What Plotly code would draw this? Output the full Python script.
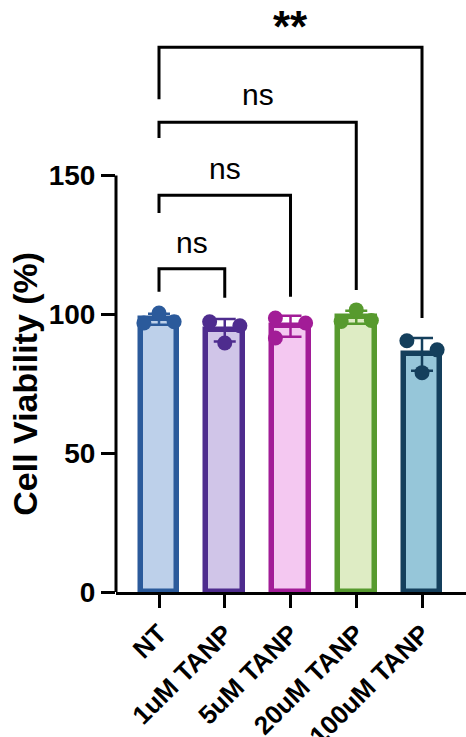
import numpy as np
import plotly.graph_objects as go

# ---- data ----
groups = ["NT", "1uM TANP", "5uM TANP", "20uM TANP", "100uM TANP"]
nt_vals = [96.9, 100.5, 97.3]
tanp1_vals = [97.3, 89.7, 95.9]
tanp5_vals = [98.7, 91.5, 96.9]
tanp20_vals = [97.4, 101.6, 97.8]
tanp100_vals = [90.5, 79.0, 87.2]
replicates = [nt_vals, tanp1_vals, tanp5_vals, tanp20_vals, tanp100_vals]

y_ticks = [0, 50, 100, 150]
y_title = "Cell Viability (%)"
comparisons = [(0, 1, "ns"), (0, 2, "ns"), (0, 3, "ns"), (0, 4, "**")]

# ---- styling ----
edge_colors = ["#2B5A9B", "#4E2C8E", "#A21C97", "#579A2E", "#143F5C"]
fill_colors = ["#BDD0EA", "#D0C5E8", "#F4C8F1", "#DEECC4", "#96C6D9"]
point_offsets = [[-1, 0, 1], [-1, 0, 1], [-1, -1, 1], [-1, 0, 1], [-1, 0, 1]]
jitter = 0.23
# bracket geometry: (top, left-leg bottom, right-leg bottom, label y)
bracket_levels = [
    (116.4, 108.1, 106.0, 126.0),
    (142.9, 136.5, 106.3, 152.5),
    (169.2, 163.5, 108.8, 179.0),
    (196.2, 177.5, 98.7, 203.5),
]
FONT = "Liberation Sans, Arial, Helvetica, sans-serif"

means = [float(np.mean(v)) for v in replicates]
sds = [float(np.std(v, ddof=1)) for v in replicates]
xs = list(range(len(groups)))

fig = go.Figure()

for i, g in enumerate(groups):
    fig.add_trace(go.Bar(
        x=[xs[i]], y=[means[i]], width=0.56,
        marker=dict(color=fill_colors[i], line=dict(color=edge_colors[i], width=5.5)),
        error_y=dict(type="data", array=[sds[i]], color=edge_colors[i],
                     thickness=2.5, width=11, visible=True),
        showlegend=False, hoverinfo="skip",
    ))

for i, vals in enumerate(replicates):
    px = [xs[i] + jitter * o for o in point_offsets[i]]
    fig.add_trace(go.Scatter(
        x=px, y=vals, mode="markers",
        marker=dict(size=15, color=edge_colors[i], line=dict(width=0)),
        showlegend=False, hoverinfo="skip",
    ))

shapes = []
# y axis line spans only the ticked range
shapes.append(dict(type="line", xref="paper", yref="y", x0=0, x1=0,
                   y0=0, y1=y_ticks[-1], line=dict(color="black", width=3)))
annotations = []
for (a, b, lab), (top, lbot, rbot, ly) in zip(comparisons, bracket_levels):
    shapes.append(dict(
        type="path", xref="x", yref="y",
        path=f"M {xs[a]},{lbot} L {xs[a]},{top} L {xs[b]},{top} L {xs[b]},{rbot}",
        line=dict(color="black", width=3),
    ))
    bold = lab != "ns"
    annotations.append(dict(
        x=(xs[a] + xs[b]) / 2, y=ly, xref="x", yref="y", text=lab,
        showarrow=False, yanchor="middle",
        font=dict(family=FONT, size=44 if bold else 30, color="black",
                  weight="bold" if bold else "normal"),
    ))

# axis title centred on the ticked span of the y axis
annotations.append(dict(
    x=-0.26, y=y_ticks[-1] / 2, xref="paper", yref="y", text=y_title,
    textangle=-90, showarrow=False, xanchor="center", yanchor="middle",
    font=dict(family=FONT, size=34, color="black", weight="bold"),
))

fig.update_layout(
    width=466, height=737,
    margin=dict(l=116, r=0, t=0, b=145, autoexpand=False),
    plot_bgcolor="white", paper_bgcolor="white",
    barmode="overlay", bargap=0,
    shapes=shapes, annotations=annotations,
    font=dict(family=FONT, color="black"),
)
fig.update_xaxes(
    range=[-0.654, 4.669], tickmode="array", tickvals=xs, ticktext=groups,
    tickangle=-45, showline=True, linecolor="black", linewidth=3,
    ticks="outside", ticklen=13, tickwidth=3, tickcolor="black",
    showgrid=False, zeroline=False, automargin=False,
    tickfont=dict(family=FONT, size=26, color="black", weight="bold"),
)
fig.update_yaxes(
    range=[0, 213.2], tickmode="array", tickvals=y_ticks,
    showline=False, ticks="outside", ticklen=14, tickwidth=3, tickcolor="black",
    showgrid=False, zeroline=False, automargin=False,
    tickfont=dict(family=FONT, size=28, color="black", weight="bold"),
)

fig.write_html("out.html")
